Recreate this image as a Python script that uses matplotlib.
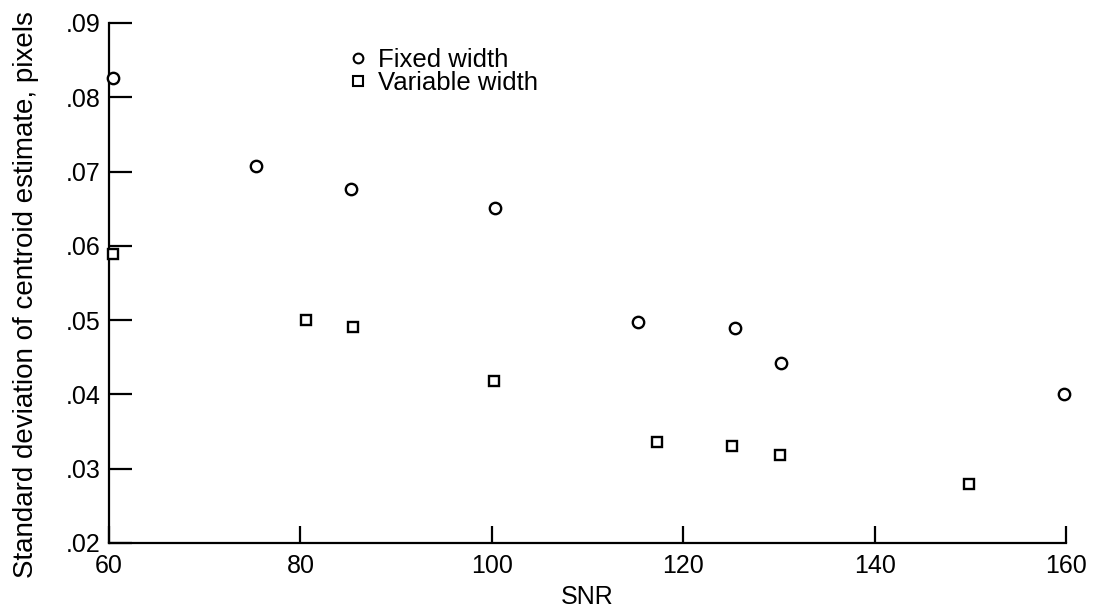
import matplotlib
matplotlib.use("Agg")
import matplotlib.pyplot as plt

plt.rcParams['font.family'] = ['Liberation Sans', 'DejaVu Sans']

fixed_snr = [60.4, 75.4, 85.3, 100.3, 115.3, 125.4, 130.2, 159.8]
fixed_std = [0.0826, 0.0708, 0.0677, 0.0651, 0.0498, 0.0490, 0.0442, 0.0401]
var_snr = [60.4, 80.6, 85.5, 100.2, 117.3, 125.1, 130.1, 149.9]
var_std = [0.0589, 0.0500, 0.0491, 0.0418, 0.0336, 0.0330, 0.0318, 0.0280]
x_ticks = [60, 80, 100, 120, 140, 160]
y_ticks = [0.02, 0.03, 0.04, 0.05, 0.06, 0.07, 0.08, 0.09]
y_labels = ['.02', '.03', '.04', '.05', '.06', '.07', '.08', '.09']

fig = plt.figure(figsize=(10.96, 6.15), dpi=100)
ax = fig.add_axes([109/1096, 1 - 543/615, (1066 - 109)/1096, (543 - 23)/615])

ax.plot(fixed_snr, fixed_std, linestyle='none', marker='o', markersize=8.2,
        markerfacecolor='white', markeredgecolor='black', markeredgewidth=1.7,
        label='Fixed width', clip_on=False, zorder=5)
ax.plot(var_snr, var_std, linestyle='none', marker='s', markersize=7.8,
        markerfacecolor='white', markeredgecolor='black', markeredgewidth=1.7,
        label='Variable width', clip_on=False, zorder=5)

ax.set_xlim(60, 160)
ax.set_ylim(0.02, 0.09)
ax.set_xticks(x_ticks)
ax.set_xticklabels([str(t) for t in x_ticks])
ax.set_yticks(y_ticks)
ax.set_yticklabels(y_labels)

for s in ['top', 'right']:
    ax.spines[s].set_visible(False)
for s in ['left', 'bottom']:
    ax.spines[s].set_linewidth(1.6)

ax.tick_params(axis='x', direction='in', length=12, width=1.6, labelsize=18, pad=8)
ax.tick_params(axis='y', direction='in', length=16.5, width=1.6, labelsize=18, pad=6)

ax.set_xlabel('SNR', fontsize=18, labelpad=5)
ax.set_ylabel('Standard deviation of centroid estimate, pixels', fontsize=20)
ax.yaxis.set_label_coords(-0.073, 0.477)

leg = ax.legend(loc='upper left', bbox_to_anchor=(0.252, 0.951), frameon=False,
                fontsize=18.5, handlelength=0.6, handletextpad=0.48,
                labelspacing=-0.05, borderpad=0, borderaxespad=0)
for h in leg.legend_handles:
    h.set_markersize(7)
    h.set_markeredgewidth(1.5)

fig.savefig('out.png', dpi=100)
